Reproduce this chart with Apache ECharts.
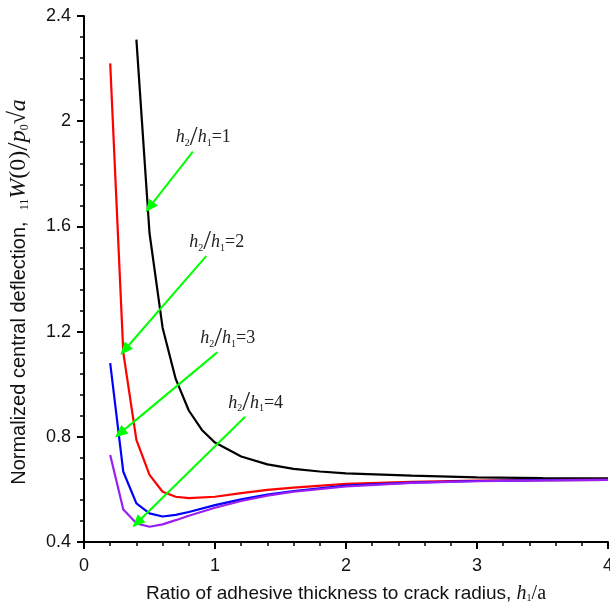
<!DOCTYPE html>
<html>
<head>
<meta charset="utf-8">
<script src="https://cdn.jsdelivr.net/npm/echarts@6/dist/echarts.min.js"></script>
<style>
  html, body { margin: 0; padding: 0; background: #fff; }
  #chart { width: 610px; height: 609px; }
</style>
</head>
<body>
<div id="chart"></div>
<script>
// ratio h1/a
const blackX = [0.4, 0.5, 0.6, 0.7, 0.8, 0.9, 1.0, 1.2, 1.4, 1.6, 1.8, 2.0, 2.5, 3.0, 3.5, 4.0];
const blackY = [2.31, 1.575, 1.215, 1.02, 0.90, 0.826, 0.778, 0.725, 0.695, 0.678, 0.668, 0.661, 0.652, 0.646, 0.643, 0.642];

const colX = [0.2, 0.3, 0.4, 0.5, 0.6, 0.7, 0.8, 1.0, 1.2, 1.4, 1.6, 2.0, 2.5, 3.0, 3.5, 4.0];
const redY = [2.22, 1.12, 0.788, 0.655, 0.591, 0.572, 0.567, 0.572, 0.586, 0.598, 0.607, 0.621, 0.629, 0.633, 0.635, 0.636];
const blueY = [1.08, 0.667, 0.547, 0.509, 0.497, 0.503, 0.514, 0.540, 0.562, 0.580, 0.594, 0.614, 0.626, 0.632, 0.635, 0.636];
const purpleY = [0.731, 0.524, 0.471, 0.458, 0.467, 0.483, 0.500, 0.530, 0.556, 0.576, 0.591, 0.611, 0.625, 0.631, 0.634, 0.636];

// annotation arrows: label anchor -> curve
const ratios = ['1', '2', '3', '4'];
const arrowFrom = [[0.831, 1.884], [0.933, 1.487], [1.017, 1.121], [1.23, 0.876]];
const arrowTo = [[0.5, 1.673], [0.31, 1.13], [0.274, 0.813], [0.405, 0.473]];

const pair = (xs, ys) => xs.map((x, i) => [x, ys[i]]);

const serif = 'Liberation Serif';
const mathRich = {
    i: { fontFamily: serif, fontStyle: 'italic', fontSize: 18, color: '#222', verticalAlign: 'middle' },
    n: { fontFamily: serif, fontSize: 18, color: '#222', verticalAlign: 'middle' },
    sub: { fontFamily: serif, fontSize: 10, color: '#222', lineHeight: 10, padding: [12, 0, 0, 0], verticalAlign: 'middle' },
    sl: { fontFamily: serif, fontSize: 28, color: '#222', verticalAlign: 'middle' }
};

let chart = echarts.init(document.getElementById('chart'));

const lineSeries = (name, data, color) => ({
    name: name,
    type: 'line',
    data: data,
    symbol: 'none',
    smooth: false,
    lineStyle: { color: color, width: 2.2 },
    itemStyle: { color: color }
});

const option = {
    animation: false,
    grid: { left: 84, right: 2, top: 16, bottom: 67, containLabel: false, outerBoundsMode: 'none' },
    xAxis: {
        type: 'value',
        min: 0, max: 4, interval: 1,
        name: 'Ratio of adhesive thickness to crack radius, {i|h}{sub|1}{n|/}{n|a}',
        nameLocation: 'middle',
        nameGap: 42,
        nameTextStyle: {
            fontFamily: 'Liberation Sans', fontSize: 19, color: '#111',
            rich: {
                i: { fontFamily: serif, fontStyle: 'italic', fontSize: 20, color: '#111' },
                n: { fontFamily: serif, fontSize: 20, color: '#111' },
                sub: { fontFamily: serif, fontSize: 10, color: '#111', padding: [9, 0, 0, 0] }
            }
        },
        axisLine: { lineStyle: { color: '#000', width: 2 } },
        axisTick: { inside: false, length: 7, lineStyle: { color: '#000', width: 2 } },
        minorTick: { show: true, splitNumber: 5, length: 4, lineStyle: { color: '#000', width: 1.5 } },
        axisLabel: { margin: 15, fontFamily: 'Liberation Sans', fontSize: 18, color: '#111' },
        splitLine: { show: false }
    },
    yAxis: {
        type: 'value',
        min: 0.4, max: 2.4, interval: 0.4,
        name: 'Normalized central deflection,  {sub|11}{i|W}{n|(0)}{sl|/}{i|p}{sub|0}{n|√}{i|a}',
        nameLocation: 'middle',
        nameGap: 50,
        nameTextStyle: {
            fontFamily: 'Liberation Sans', fontSize: 20, color: '#111',
            padding: [0, 26, 0, 0],
            rich: {
                i: { fontFamily: serif, fontStyle: 'italic', fontSize: 24, color: '#111' },
                n: { fontFamily: serif, fontSize: 24, color: '#111' },
                sub: { fontFamily: serif, fontSize: 12, color: '#111', padding: [11, 0, 0, 0] },
                sl: { fontFamily: serif, fontSize: 30, color: '#111' }
            }
        },
        axisLine: { show: true, lineStyle: { color: '#000', width: 2 } },
        axisTick: { show: true, inside: false, length: 7, lineStyle: { color: '#000', width: 2 } },
        minorTick: { show: true, splitNumber: 5, length: 4, lineStyle: { color: '#000', width: 1.5 } },
        axisLabel: {
            margin: 13, fontFamily: 'Liberation Sans', fontSize: 18, color: '#111',
            formatter: v => String(Math.round(v * 10) / 10)
        },
        splitLine: { show: false }
    },
    series: [
        lineSeries('h2/h1=1', pair(blackX, blackY), '#000000'),
        lineSeries('h2/h1=2', pair(colX, redY), '#ff0000'),
        lineSeries('h2/h1=3', pair(colX, blueY), '#0000ff'),
        lineSeries('h2/h1=4', pair(colX, purpleY), '#9b1ff0'),
        {
            name: 'annotations',
            type: 'line',
            data: [],
            silent: true,
            markLine: {
                silent: true,
                animation: false,
                symbol: ['none', 'triangle'],
                symbolSize: [11, 13],
                label: { show: false },
                lineStyle: { color: '#00ff00', width: 2, type: 'solid' },
                data: arrowFrom.map((p, i) => [{ coord: p }, { coord: arrowTo[i] }])
            },
            markPoint: {
                silent: true,
                symbol: 'circle',
                symbolSize: 0,
                itemStyle: { color: 'rgba(0,0,0,0)' },
                label: {
                    show: true,
                    position: [-17, -28],
                    align: 'left',
                    verticalAlign: 'top',
                    rich: mathRich
                },
                data: arrowFrom.map((p, i) => ({
                    coord: p,
                    value: ratios[i],
                    label: { formatter: '{i|h}{sub|2}{sl|/}{i|h}{sub|1}{n|=' + ratios[i] + '}' }
                }))
            }
        }
    ]
};

chart.setOption(option);

window.addEventListener('resize', function () {
    chart.resize();
});
</script>
</body>
</html>
